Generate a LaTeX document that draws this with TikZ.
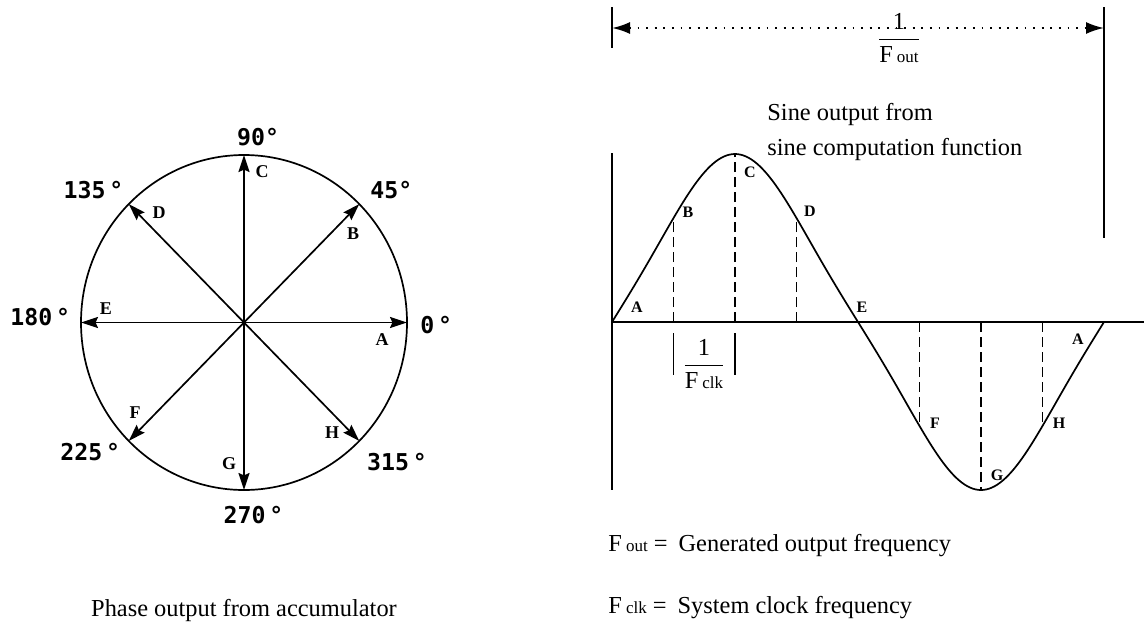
\documentclass[tikz,border=0pt]{standalone}
\usepackage{fontspec}
\setmainfont{Liberation Serif}
\newfontfamily\degfont{DejaVu Sans Mono}
\usepackage{amsmath}
\usetikzlibrary{arrows.meta, positioning}

\newcommand{\Fsub}[1]{F\,{\fontsize{8.5}{10}\selectfont #1}}

\tikzset{
  curve/.style={line width=0.85pt},
  ptr/.style={line width=0.85pt, -{Stealth[length=8.5pt,width=5.5pt,inset=1.2pt]}},
  guide/.style={line width=0.6pt, dash pattern=on 5pt off 2.5pt},
  dimline/.style={line width=1.1pt, dash pattern=on 0.9pt off 3.4pt,
    {Latex[length=9pt,width=6pt]}-{Latex[length=9pt,width=6pt]}},
  ltr/.style={font=\bfseries\fontsize{9}{10}\selectfont, inner sep=0pt},
  sltr/.style={font=\bfseries\fontsize{8}{9}\selectfont, inner sep=0pt},
  deg/.style={font=\degfont\bfseries\fontsize{11.6}{13}\selectfont, inner sep=0pt, anchor=west}
}

\begin{document}
\begin{tikzpicture}[x=0.5pt,y=-0.5pt,
  every node/.style={font=\fontsize{12.2}{17.5}\selectfont, inner sep=0pt}]
\useasboundingbox (0,0) rectangle (1144,627);

% phase wheel
\def\cx{244}
\def\cy{322.5}
\def\rx{163}
\def\ry{167.5}
\coordinate (O) at (\cx,\cy);
\draw[curve] (O) ellipse [x radius=\rx, y radius=\ry];
\foreach \ang/\tip in {0/A,45/B,90/C,135/D,180/E,225/F,270/G,315/H}
  \draw[ptr] (O) -- ++({\rx*cos(\ang)},{-\ry*sin(\ang)}) coordinate (tip\tip);

\foreach \lbl/\px/\py in {A/382/340, B/353/234, C/262/172, D/159/213,
    E/106/309, F/135/413, G/229/464, H/332/433}
  \node[ltr] (c\lbl) at (\px,\py) {\lbl};

\node[deg] (d0) at (420,325) {0\,°};
\node[deg] (d45) at (370,190) {45°};
\node[deg] (d90) at (236.7,136.7) {90°};
\node[deg] (d135) at (63.3,190) {135\,°};
\node[deg] (d180) at (10,316.7) {180\,°};
\node[deg] (d225) at (60,451.7) {225\,°};
\node[deg] (d270) at (223.3,515) {270\,°};
\node[deg] (d315) at (366.7,461.7) {315\,°};

\node (phasecap) at (244,610) {Phase output from accumulator};

% sine wave
\def\xo{612}
\def\yo{322}
\def\per{492}
\def\amp{168}
\coordinate (S0) at (\xo,\yo);
\coordinate (Send) at (1144,\yo);
\draw[curve] (\xo,153) -- (\xo,490);
\draw[curve] (S0) -- (Send);
\draw[curve] plot[domain=0:360, samples=181, variable=\t]
  ({\xo+\t/360*\per}, {\yo-\amp*sin(\t)*(1-0.25*(cos(\t))^2)});

\foreach \k in {1,2,3,5,6,7}{
  \pgfmathsetmacro{\gx}{\xo+\k*\per/8}
  \pgfmathsetmacro{\gy}{\yo-\amp*sin(45*\k)*(1-0.25*(cos(45*\k))^2)}
  \draw[guide] (\gx,\yo) -- (\gx,\gy);
}

\foreach \lbl/\px/\py [count=\i] in {A/637/307, B/688/212, C/750/172, D/810/211,
    E/862/307, F/935/423, G/997/475, H/1059/423, A/1078/339}
  \node[sltr] (s\i) at (\px,\py) {\lbl};

% one clock period
\draw[curve] ({\xo+\per/8},333) -- ({\xo+\per/8},375);
\draw[curve] ({\xo+\per/4},333) -- ({\xo+\per/4},375);
\node (fclk) at (704,364) {$\dfrac{\text{1}}{\text{\Fsub{clk}}}$};

% one output period
\coordinate (dimL) at (\xo,28);
\coordinate (dimR) at (\xo+\per,28);
\draw[curve] (\xo,7) -- (\xo,48);
\draw[curve] (\xo+\per,7) -- (\xo+\per,238);
\draw[dimline] (dimL) -- (dimR);
\node (fout) at (899,38) {$\dfrac{\text{1}}{\text{\Fsub{out}}}$};

\node[anchor=west, align=left] (sinecap) at (767,132)
  {Sine output from\\sine computation function};

\node[anchor=west] (foutkey) at (608,546) {\Fsub{out} =\hspace{0.45em}Generated output frequency};
\node[anchor=west] (fclkkey) at (608,608) {\Fsub{clk} =\hspace{0.45em}System clock frequency};
\end{tikzpicture}
\end{document}
